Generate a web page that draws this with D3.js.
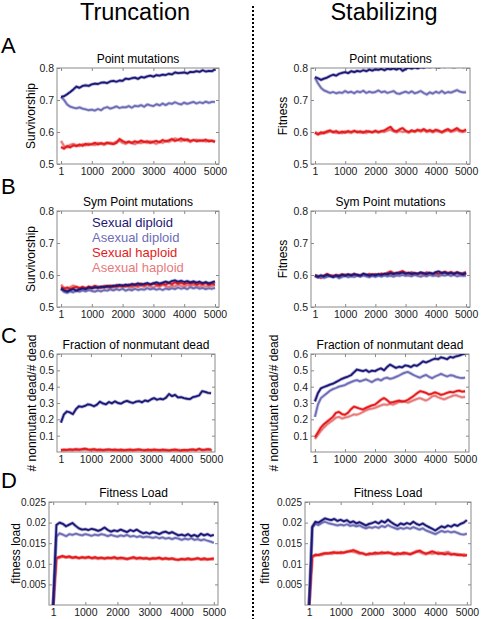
<!DOCTYPE html>
<html>
<head>
<meta charset="utf-8">
<script src="https://cdn.jsdelivr.net/npm/d3@7/dist/d3.min.js"></script>
<style>
html,body{margin:0;padding:0;background:#fff;}
svg{display:block;}
text{font-family:"Liberation Sans",Arial,Helvetica,sans-serif;}
</style>
</head>
<body>
<svg id="chart" width="481" height="619"></svg>
<script>
// ---------- DATA ----------
const gens = [1,100,200,300,400,500,600,700,800,900,1000,1100,1200,1300,1400,1500,1600,1700,1800,1900,2000,2100,2200,2300,2400,2500,2600,2700,2800,2900,3000,3100,3200,3300,3400,3500,3600,3700,3800,3900,4000,4100,4200,4300,4400,4500,4600,4700,4800,4900,5000];
const seriesNames = ["Sexual diploid","Asexual diploid","Sexual haploid","Asexual haploid"];
const xTicks = [1,1000,2000,3000,4000,5000];
const yTicksSurv = [0.5,0.6,0.7,0.8];
const yTicksFrac = [0.1,0.2,0.3,0.4,0.5,0.6];
const yTicksLoad = [0.005,0.01,0.015,0.02,0.025];

// A: Point mutations, Truncation (Survivorship)
const truncPointSD = [0.710,0.712,0.718,0.725,0.733,0.742,0.738,0.744,0.746,0.744,0.749,0.751,0.750,0.754,0.755,0.753,0.758,0.760,0.757,0.761,0.760,0.767,0.765,0.768,0.770,0.766,0.772,0.770,0.774,0.776,0.773,0.778,0.776,0.779,0.778,0.782,0.780,0.786,0.784,0.785,0.786,0.783,0.788,0.787,0.790,0.788,0.793,0.789,0.791,0.790,0.796];
const truncPointAD = [0.710,0.700,0.686,0.679,0.676,0.674,0.677,0.673,0.671,0.668,0.670,0.667,0.672,0.668,0.675,0.678,0.673,0.676,0.680,0.675,0.678,0.677,0.681,0.676,0.682,0.680,0.684,0.679,0.686,0.683,0.681,0.687,0.683,0.689,0.684,0.690,0.688,0.693,0.689,0.686,0.692,0.688,0.691,0.694,0.689,0.693,0.690,0.695,0.691,0.694,0.694];
const truncPointSH = [0.553,0.548,0.556,0.552,0.558,0.556,0.561,0.557,0.563,0.560,0.562,0.566,0.561,0.565,0.563,0.567,0.564,0.562,0.566,0.578,0.572,0.567,0.570,0.566,0.571,0.568,0.573,0.569,0.571,0.566,0.570,0.572,0.568,0.575,0.571,0.574,0.578,0.572,0.575,0.580,0.574,0.577,0.572,0.575,0.571,0.574,0.572,0.576,0.571,0.573,0.570];
const truncPointAH = [0.572,0.556,0.553,0.560,0.563,0.559,0.556,0.562,0.558,0.564,0.561,0.559,0.566,0.563,0.560,0.564,0.567,0.565,0.570,0.572,0.566,0.563,0.568,0.565,0.562,0.567,0.565,0.569,0.566,0.571,0.567,0.563,0.570,0.566,0.572,0.569,0.574,0.580,0.576,0.571,0.578,0.573,0.569,0.574,0.576,0.572,0.575,0.570,0.574,0.572,0.568];

// A: Point mutations, Stabilizing (Fitness)
const stabPointSD = [0.772,0.768,0.763,0.767,0.770,0.775,0.779,0.776,0.782,0.785,0.787,0.784,0.790,0.787,0.791,0.789,0.793,0.790,0.795,0.792,0.796,0.794,0.797,0.793,0.798,0.796,0.799,0.795,0.800,0.791,0.797,0.801,0.798,0.802,0.799,0.803,0.801,0.805,0.803,0.806,0.804,0.802,0.806,0.804,0.807,0.805,0.803,0.806,0.808,0.804,0.806];
const stabPointAD = [0.770,0.752,0.738,0.730,0.726,0.722,0.725,0.721,0.724,0.722,0.728,0.723,0.726,0.721,0.727,0.724,0.729,0.722,0.726,0.723,0.725,0.730,0.724,0.727,0.722,0.725,0.728,0.721,0.719,0.723,0.726,0.722,0.727,0.721,0.724,0.728,0.722,0.717,0.724,0.720,0.726,0.722,0.728,0.721,0.725,0.723,0.727,0.731,0.726,0.724,0.724];
const stabPointSH = [0.598,0.592,0.599,0.596,0.602,0.605,0.599,0.603,0.597,0.601,0.598,0.603,0.600,0.604,0.599,0.602,0.598,0.603,0.601,0.599,0.604,0.600,0.603,0.605,0.611,0.616,0.605,0.602,0.608,0.612,0.604,0.600,0.605,0.602,0.607,0.604,0.609,0.603,0.606,0.602,0.607,0.604,0.600,0.605,0.609,0.603,0.607,0.612,0.605,0.603,0.608];
const stabPointAH = [0.600,0.596,0.594,0.600,0.598,0.602,0.601,0.597,0.600,0.596,0.602,0.599,0.597,0.601,0.602,0.598,0.600,0.597,0.602,0.599,0.601,0.598,0.602,0.600,0.604,0.607,0.602,0.599,0.603,0.600,0.602,0.598,0.603,0.600,0.604,0.601,0.605,0.600,0.603,0.599,0.603,0.601,0.598,0.602,0.605,0.600,0.603,0.606,0.601,0.600,0.603];

// B: Sym Point mutations, Truncation
const truncSymSD = [0.558,0.552,0.549,0.553,0.556,0.551,0.555,0.558,0.556,0.561,0.558,0.562,0.560,0.564,0.561,0.566,0.563,0.567,0.565,0.569,0.566,0.570,0.567,0.572,0.569,0.574,0.570,0.572,0.575,0.571,0.574,0.577,0.573,0.576,0.579,0.576,0.581,0.583,0.579,0.582,0.578,0.581,0.577,0.580,0.576,0.579,0.575,0.578,0.574,0.577,0.580];
const truncSymAD = [0.556,0.547,0.544,0.549,0.546,0.551,0.548,0.552,0.549,0.553,0.550,0.548,0.552,0.549,0.553,0.551,0.555,0.552,0.556,0.553,0.557,0.551,0.555,0.552,0.557,0.553,0.556,0.554,0.559,0.555,0.558,0.554,0.557,0.553,0.558,0.555,0.559,0.556,0.561,0.557,0.560,0.556,0.562,0.558,0.561,0.557,0.560,0.556,0.559,0.557,0.560];
const truncSymSH = [0.562,0.557,0.561,0.556,0.560,0.563,0.559,0.562,0.558,0.564,0.561,0.566,0.562,0.560,0.565,0.562,0.567,0.563,0.569,0.565,0.568,0.564,0.570,0.566,0.571,0.567,0.573,0.568,0.572,0.569,0.574,0.570,0.568,0.573,0.570,0.575,0.571,0.577,0.573,0.576,0.571,0.575,0.572,0.576,0.570,0.574,0.571,0.575,0.569,0.573,0.571];
const truncSymAH = [0.570,0.560,0.556,0.562,0.567,0.562,0.558,0.563,0.560,0.557,0.562,0.559,0.564,0.560,0.566,0.562,0.558,0.563,0.560,0.565,0.561,0.566,0.563,0.560,0.565,0.562,0.567,0.563,0.568,0.564,0.561,0.566,0.563,0.569,0.565,0.562,0.567,0.564,0.570,0.566,0.563,0.568,0.565,0.569,0.566,0.563,0.568,0.564,0.567,0.565,0.568];

// B: Sym Point mutations, Stabilizing
const stabSymSD = [0.598,0.594,0.599,0.596,0.601,0.597,0.594,0.599,0.596,0.601,0.598,0.602,0.599,0.603,0.600,0.598,0.604,0.601,0.598,0.602,0.599,0.603,0.600,0.604,0.602,0.606,0.603,0.607,0.605,0.608,0.604,0.607,0.603,0.606,0.604,0.608,0.605,0.603,0.607,0.604,0.609,0.611,0.606,0.608,0.604,0.607,0.603,0.608,0.605,0.602,0.606];
const stabSymAD = [0.596,0.592,0.595,0.591,0.594,0.597,0.593,0.596,0.590,0.594,0.597,0.593,0.596,0.594,0.598,0.595,0.599,0.596,0.593,0.597,0.594,0.598,0.595,0.599,0.596,0.598,0.595,0.599,0.597,0.600,0.597,0.599,0.596,0.600,0.597,0.595,0.599,0.596,0.600,0.597,0.599,0.596,0.600,0.598,0.601,0.597,0.600,0.596,0.599,0.597,0.598];
const stabSymSH = [0.600,0.596,0.591,0.598,0.603,0.599,0.596,0.600,0.597,0.602,0.598,0.601,0.599,0.603,0.600,0.597,0.601,0.599,0.603,0.600,0.602,0.599,0.604,0.601,0.607,0.611,0.606,0.603,0.609,0.612,0.607,0.604,0.608,0.605,0.603,0.607,0.604,0.608,0.605,0.602,0.606,0.603,0.607,0.610,0.606,0.609,0.605,0.608,0.604,0.606,0.609];
const stabSymAH = [0.599,0.597,0.593,0.597,0.600,0.597,0.599,0.596,0.600,0.598,0.601,0.598,0.600,0.597,0.601,0.599,0.602,0.599,0.601,0.598,0.602,0.600,0.603,0.600,0.604,0.606,0.603,0.600,0.604,0.607,0.603,0.600,0.604,0.601,0.604,0.602,0.605,0.602,0.604,0.600,0.604,0.601,0.605,0.607,0.603,0.605,0.602,0.605,0.601,0.603,0.604];

// C: Fraction of nonmutant dead, Truncation
const truncFracSD = [0.180,0.230,0.248,0.242,0.232,0.262,0.280,0.276,0.282,0.292,0.288,0.280,0.290,0.308,0.297,0.292,0.306,0.298,0.310,0.300,0.296,0.307,0.313,0.305,0.300,0.308,0.312,0.304,0.316,0.310,0.322,0.330,0.320,0.326,0.322,0.333,0.355,0.342,0.350,0.334,0.336,0.330,0.326,0.324,0.336,0.340,0.346,0.372,0.368,0.362,0.360];
const truncFracSH = [0.012,0.014,0.013,0.016,0.014,0.018,0.015,0.017,0.020,0.016,0.014,0.017,0.013,0.015,0.012,0.014,0.016,0.013,0.015,0.012,0.014,0.011,0.013,0.015,0.012,0.014,0.016,0.013,0.011,0.014,0.012,0.015,0.013,0.011,0.014,0.012,0.010,0.013,0.015,0.012,0.010,0.013,0.011,0.014,0.016,0.012,0.020,0.013,0.015,0.018,0.014];
const truncFracAH = [0.009,0.010,0.011,0.012,0.010,0.013,0.012,0.014,0.016,0.013,0.011,0.012,0.010,0.012,0.009,0.011,0.013,0.010,0.012,0.010,0.011,0.009,0.010,0.012,0.010,0.011,0.013,0.010,0.009,0.011,0.010,0.012,0.010,0.009,0.011,0.010,0.008,0.010,0.012,0.010,0.008,0.010,0.009,0.011,0.013,0.010,0.016,0.011,0.012,0.014,0.011];

// C: Fraction of nonmutant dead, Stabilizing
const stabFracSD = [0.310,0.360,0.390,0.398,0.405,0.412,0.418,0.428,0.438,0.448,0.455,0.462,0.470,0.488,0.505,0.500,0.495,0.502,0.490,0.498,0.495,0.505,0.512,0.500,0.520,0.535,0.525,0.515,0.522,0.518,0.530,0.527,0.520,0.532,0.528,0.540,0.555,0.548,0.556,0.565,0.572,0.568,0.580,0.575,0.568,0.582,0.578,0.586,0.590,0.598,0.603];
const stabFracAD = [0.215,0.290,0.330,0.345,0.360,0.375,0.385,0.392,0.400,0.405,0.410,0.420,0.428,0.435,0.440,0.432,0.438,0.445,0.436,0.428,0.440,0.446,0.438,0.450,0.455,0.448,0.452,0.460,0.468,0.478,0.486,0.490,0.480,0.470,0.462,0.455,0.465,0.472,0.460,0.452,0.462,0.470,0.478,0.470,0.462,0.470,0.468,0.460,0.455,0.452,0.455];
const stabFracSH = [0.090,0.120,0.150,0.170,0.185,0.200,0.215,0.240,0.245,0.232,0.228,0.240,0.262,0.278,0.272,0.265,0.260,0.270,0.278,0.285,0.290,0.305,0.320,0.330,0.318,0.302,0.305,0.310,0.315,0.308,0.312,0.320,0.332,0.345,0.360,0.372,0.368,0.362,0.352,0.358,0.365,0.358,0.350,0.355,0.362,0.368,0.365,0.372,0.376,0.370,0.372];
const stabFracAH = [0.080,0.105,0.130,0.150,0.168,0.182,0.195,0.210,0.215,0.205,0.210,0.215,0.222,0.230,0.228,0.236,0.245,0.255,0.262,0.265,0.270,0.278,0.285,0.292,0.288,0.295,0.290,0.298,0.306,0.312,0.308,0.302,0.310,0.318,0.325,0.330,0.322,0.315,0.325,0.340,0.345,0.335,0.328,0.322,0.330,0.338,0.345,0.348,0.340,0.335,0.338];

// D: Fitness Load, Truncation
const truncLoadSD = [0,0.0194,0.0200,0.0197,0.0191,0.0195,0.0199,0.0192,0.0186,0.0183,0.0184,0.0182,0.0185,0.0183,0.0180,0.0183,0.0188,0.0182,0.0178,0.0181,0.0179,0.0183,0.0180,0.0177,0.0182,0.0179,0.0183,0.0178,0.0174,0.0176,0.0173,0.0177,0.0175,0.0172,0.0176,0.0178,0.0174,0.0177,0.0173,0.0169,0.0171,0.0168,0.0172,0.0167,0.0170,0.0166,0.0173,0.0169,0.0172,0.0168,0.0170];
const truncLoadAD = [0,0.0166,0.0174,0.0171,0.0167,0.0172,0.0170,0.0173,0.0171,0.0169,0.0172,0.0170,0.0168,0.0171,0.0169,0.0172,0.0170,0.0167,0.0170,0.0168,0.0166,0.0169,0.0167,0.0170,0.0166,0.0168,0.0165,0.0167,0.0164,0.0166,0.0165,0.0163,0.0165,0.0162,0.0164,0.0161,0.0163,0.0160,0.0163,0.0161,0.0158,0.0161,0.0159,0.0162,0.0158,0.0160,0.0157,0.0159,0.0156,0.0154,0.0151];
const truncLoadSH = [0,0.0114,0.0117,0.0119,0.0116,0.0118,0.0115,0.0117,0.0114,0.0116,0.0115,0.0117,0.0114,0.0116,0.0114,0.0115,0.0113,0.0115,0.0114,0.0116,0.0113,0.0115,0.0114,0.0112,0.0114,0.0116,0.0113,0.0115,0.0113,0.0114,0.0112,0.0114,0.0113,0.0115,0.0112,0.0114,0.0112,0.0113,0.0111,0.0110,0.0112,0.0111,0.0113,0.0111,0.0112,0.0114,0.0111,0.0113,0.0111,0.0112,0.0113];
const truncLoadAH = [0,0.0112,0.0115,0.0117,0.0115,0.0116,0.0114,0.0115,0.0113,0.0115,0.0113,0.0115,0.0113,0.0114,0.0112,0.0114,0.0112,0.0114,0.0113,0.0114,0.0112,0.0113,0.0112,0.0111,0.0113,0.0114,0.0112,0.0113,0.0112,0.0113,0.0111,0.0112,0.0112,0.0113,0.0111,0.0112,0.0111,0.0112,0.0110,0.0109,0.0111,0.0110,0.0111,0.0110,0.0111,0.0112,0.0110,0.0111,0.0110,0.0111,0.0111];

// D: Fitness Load, Stabilizing
const stabLoadSD = [0,0.0190,0.0202,0.0200,0.0205,0.0210,0.0208,0.0206,0.0209,0.0204,0.0207,0.0203,0.0206,0.0200,0.0203,0.0198,0.0201,0.0197,0.0193,0.0197,0.0199,0.0202,0.0198,0.0204,0.0200,0.0207,0.0201,0.0196,0.0192,0.0198,0.0195,0.0199,0.0196,0.0202,0.0197,0.0194,0.0198,0.0193,0.0189,0.0185,0.0181,0.0186,0.0191,0.0188,0.0193,0.0190,0.0195,0.0192,0.0197,0.0200,0.0206];
const stabLoadAD = [0,0.0188,0.0197,0.0194,0.0199,0.0202,0.0199,0.0197,0.0195,0.0193,0.0195,0.0193,0.0196,0.0192,0.0194,0.0191,0.0193,0.0189,0.0186,0.0189,0.0187,0.0190,0.0187,0.0192,0.0189,0.0194,0.0190,0.0187,0.0184,0.0187,0.0185,0.0188,0.0185,0.0189,0.0186,0.0183,0.0186,0.0181,0.0178,0.0175,0.0172,0.0176,0.0180,0.0177,0.0179,0.0176,0.0178,0.0175,0.0172,0.0171,0.0173];
const stabLoadSH = [0,0.0118,0.0122,0.0121,0.0124,0.0126,0.0125,0.0127,0.0128,0.0126,0.0128,0.0127,0.0129,0.0130,0.0133,0.0130,0.0127,0.0125,0.0122,0.0125,0.0124,0.0127,0.0125,0.0128,0.0126,0.0128,0.0125,0.0123,0.0126,0.0124,0.0127,0.0125,0.0123,0.0126,0.0129,0.0132,0.0128,0.0125,0.0127,0.0130,0.0127,0.0124,0.0126,0.0123,0.0125,0.0122,0.0124,0.0121,0.0122,0.0120,0.0121];
const stabLoadAH = [0,0.0116,0.0120,0.0122,0.0121,0.0124,0.0126,0.0124,0.0126,0.0128,0.0125,0.0127,0.0130,0.0132,0.0129,0.0127,0.0124,0.0126,0.0123,0.0122,0.0125,0.0123,0.0126,0.0124,0.0127,0.0125,0.0127,0.0124,0.0122,0.0125,0.0123,0.0126,0.0124,0.0127,0.0131,0.0128,0.0125,0.0123,0.0126,0.0124,0.0126,0.0128,0.0124,0.0127,0.0129,0.0125,0.0122,0.0124,0.0121,0.0123,0.0120];

// ---------- STYLE / LAYOUT ----------
const colors = {SD:"#1c1878", AD:"#6e6db6", SH:"#e41a1c", AH:"#e77a7c"};
const drawOrder = ["AH","SH","AD","SD"];

const panels = [
  {box:[57,68,219,164], y:[0.5,0.8], yt:yTicksSurv, title:"Point mutations", ylab:"Survivorship", ylx:31, tf:10.5, ytf:10.5,
   s:{SD:truncPointSD, AD:truncPointAD, SH:truncPointSH, AH:truncPointAH}},
  {box:[311,68,470,164], y:[0.5,0.8], yt:yTicksSurv, title:"Point mutations", ylab:"Fitness", ylx:283, tf:10.5, ytf:10.5,
   s:{SD:stabPointSD, AD:stabPointAD, SH:stabPointSH, AH:stabPointAH}},
  {box:[57,211,219,307], y:[0.5,0.8], yt:yTicksSurv, title:"Sym Point mutations", ylab:"Survivorship", ylx:31, tf:10.5, ytf:10.5, legend:true,
   s:{SD:truncSymSD, AD:truncSymAD, SH:truncSymSH, AH:truncSymAH}},
  {box:[311,211,470,307], y:[0.5,0.8], yt:yTicksSurv, title:"Sym Point mutations", ylab:"Fitness", ylx:283, tf:10.5, ytf:10.5,
   s:{SD:stabSymSD, AD:stabSymAD, SH:stabSymSH, AH:stabSymAH}},
  {box:[57,354,215,452], y:[0,0.6], yt:yTicksFrac, title:"Fraction of nonmutant dead", ylab:"# nonmutant dead/# dead", ylx:32, tf:10.5, ytf:10.5,
   s:{SD:truncFracSD, SH:truncFracSH, AH:truncFracAH}},
  {box:[311,354,469,452], y:[0,0.6], yt:yTicksFrac, title:"Fraction of nonmutant dead", ylab:"# nonmutant dead/# dead", ylx:274, tf:10.5, ytf:10.5,
   s:{SD:stabFracSD, AD:stabFracAD, SH:stabFracSH, AH:stabFracAH}},
  {box:[49,502,218,605], y:[0,0.025], yt:yTicksLoad, title:"Fitness Load", ylab:"fitness load", ylx:16, tf:10.5, ytf:10,
   s:{SD:truncLoadSD, AD:truncLoadAD, SH:truncLoadSH, AH:truncLoadAH}},
  {box:[305,502,471,605], y:[0,0.025], yt:yTicksLoad, title:"Fitness Load", ylab:"fitness load", ylx:265, tf:10.5, ytf:10,
   s:{SD:stabLoadSD, AD:stabLoadAD, SH:stabLoadSH, AH:stabLoadAH}}
];

const svg = d3.select("#chart");

// column headers
svg.append("text").attr("x",135).attr("y",20).attr("text-anchor","middle")
  .attr("font-size",23.5).attr("fill","#000").text("Truncation");
svg.append("text").attr("x",384).attr("y",20).attr("text-anchor","middle")
  .attr("font-size",23.5).attr("fill","#000").text("Stabilizing");

// divider
svg.append("line").attr("x1",253).attr("x2",253).attr("y1",6).attr("y2",619)
  .attr("stroke","#000").attr("stroke-width",2).attr("stroke-dasharray","2,2");

// row letters
[["A",53],["B",194],["C",343],["D",488]].forEach(([l,y])=>{
  svg.append("text").attr("x",1).attr("y",y).attr("font-size",22).attr("fill","#000").text(l);
});

const fmt = d => String(+d.toFixed(3));

panels.forEach((p,i)=>{
  const [x0,y0,x1,y1] = p.box;
  const xs = d3.scaleLinear().domain([-130,5130]).range([x0,x1]);
  const ys = d3.scaleLinear().domain(p.y).range([y1,y0]);
  const g = svg.append("g");
  const clipId = "clip"+i;
  svg.append("defs").append("clipPath").attr("id",clipId)
    .append("rect").attr("x",x0).attr("y",y0).attr("width",x1-x0).attr("height",y1-y0);

  // frame
  g.append("rect").attr("x",x0).attr("y",y0).attr("width",x1-x0).attr("height",y1-y0)
    .attr("fill","#fff").attr("stroke","#8a8a8a").attr("stroke-width",1);

  // axes
  const ax = g.append("g").attr("transform",`translate(0,${y1})`)
    .call(d3.axisBottom(xs).tickValues(xTicks).tickSize(-3).tickPadding(4).tickFormat(d3.format("d")));
  const axTop = g.append("g").attr("transform",`translate(0,${y0})`)
    .call(d3.axisTop(xs).tickValues(xTicks).tickSize(-3).tickFormat(""));
  const ay = g.append("g").attr("transform",`translate(${x0},0)`)
    .call(d3.axisLeft(ys).tickValues(p.yt).tickSize(-3).tickPadding(3).tickFormat(fmt));
  const ayR = g.append("g").attr("transform",`translate(${x1},0)`)
    .call(d3.axisRight(ys).tickValues(p.yt).tickSize(-3).tickFormat(""));
  [ax,axTop,ay,ayR].forEach(a=>{
    a.select(".domain").remove();
    a.selectAll(".tick line").attr("stroke","#8a8a8a");
    a.selectAll("text").attr("fill","#1a1a1a")
      .attr("font-family",'"Liberation Sans",Arial,Helvetica,sans-serif');
  });
  ax.selectAll("text").attr("font-size",p.tf);
  ay.selectAll("text").attr("font-size",p.ytf);

  // title
  g.append("text").attr("x",(x0+x1)/2).attr("y",y0-5).attr("text-anchor","middle")
    .attr("font-size",12).attr("fill","#000").text(p.title);
  // y label
  g.append("text").attr("transform",`translate(${p.ylx},${(y0+y1)/2}) rotate(-90)`)
    .attr("text-anchor","middle").attr("dy","0.35em").attr("font-size",12).attr("fill","#000").text(p.ylab);

  // lines
  const line = d3.line().x((d,j)=>xs(gens[j])).y(d=>ys(d));
  const lg = g.append("g").attr("clip-path",`url(#${clipId})`);
  drawOrder.forEach(k=>{
    if(!p.s[k]) return;
    lg.append("path").datum(p.s[k]).attr("d",line).attr("fill","none")
      .attr("stroke",colors[k]).attr("stroke-opacity",0.35).attr("stroke-width",3.4)
      .attr("stroke-linejoin","round");
    lg.append("path").datum(p.s[k]).attr("d",line).attr("fill","none")
      .attr("stroke",colors[k]).attr("stroke-width",1.8).attr("stroke-linejoin","round");
  });

  // legend
  if(p.legend){
    const keys = ["SD","AD","SH","AH"];
    const ly = [227,242,256.5,272];
    keys.forEach((k,j)=>{
      g.append("text").attr("x",x0+35).attr("y",ly[j]).attr("font-size",13)
        .attr("fill",colors[k]).text(seriesNames[j]);
    });
  }
});
</script>
</body>
</html>
